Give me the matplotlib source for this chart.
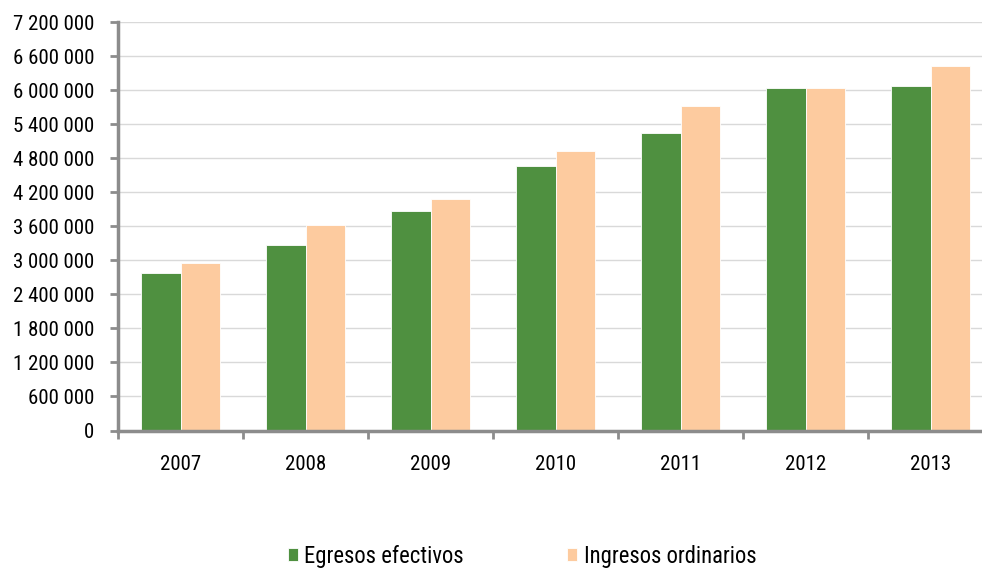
import numpy as np
import matplotlib.pyplot as plt
from matplotlib.ticker import FuncFormatter

years = ["2007", "2008", "2009", "2010", "2011", "2012", "2013"]
egresos = [2781000, 3265000, 3865000, 4664000, 5252000, 6035000, 6076000]
ingresos = [2952000, 3618000, 4076000, 4924000, 5718000, 6035000, 6417000]

green = "#4f9040"
peach = "#fdcb9f"
axis_gray = "#8c8c8c"

plt.rcParams['font.family'] = ['Roboto Condensed', 'DejaVu Sans']

fig = plt.figure(figsize=(9.82, 5.71), dpi=100)
ax = fig.add_axes([118 / 982, 1 - 430.5 / 571, 864 / 982, 408.5 / 571])

x = np.arange(len(years))
w = 0.316
ax.bar(x - w / 2, egresos, w, color=green, edgecolor="white", linewidth=0.6,
       label="Egresos efectivos", zorder=3)
ax.bar(x + w / 2, ingresos, w, color=peach, edgecolor="white", linewidth=0.6,
       label="Ingresos ordinarios", zorder=3)

ax.set_ylim(0, 7200000)
ax.set_xlim(-0.5, 6.408)  # plot runs slightly past the right edge, like the original
ax.set_yticks(np.arange(0, 7200001, 600000))
ax.yaxis.set_major_formatter(FuncFormatter(lambda v, p: f"{int(v):,}".replace(",", " ")))
ax.grid(axis="y", color="#d9d9d9", linewidth=1, zorder=0)

# year labels in the middle, tick marks on the category borders
ax.set_xticks(np.arange(-0.5, 6.5, 1))
ax.set_xticklabels([])
ax.set_xticks(x, minor=True)
ax.set_xticklabels(years, minor=True)
ax.tick_params(axis="x", which="minor", length=0, pad=18, labelsize=15)
ax.tick_params(axis="x", which="major", length=6, width=2, color=axis_gray, direction="out")
ax.tick_params(axis="y", length=6, width=2, color=axis_gray, direction="out", labelsize=15, pad=11)

for s in ["top", "right"]:
    ax.spines[s].set_visible(False)
for s in ["left", "bottom"]:
    ax.spines[s].set_color(axis_gray)
    ax.spines[s].set_linewidth(2.5)
    ax.spines[s].set_zorder(4)

fig.legend(loc="center", bbox_to_anchor=(522 / 982, 1 - 556 / 571), ncol=2,
           frameon=False, fontsize=16.3, handlelength=0.46, handleheight=0.46,
           handletextpad=0.27, columnspacing=4.55)

fig.savefig("out.png", dpi=100)
